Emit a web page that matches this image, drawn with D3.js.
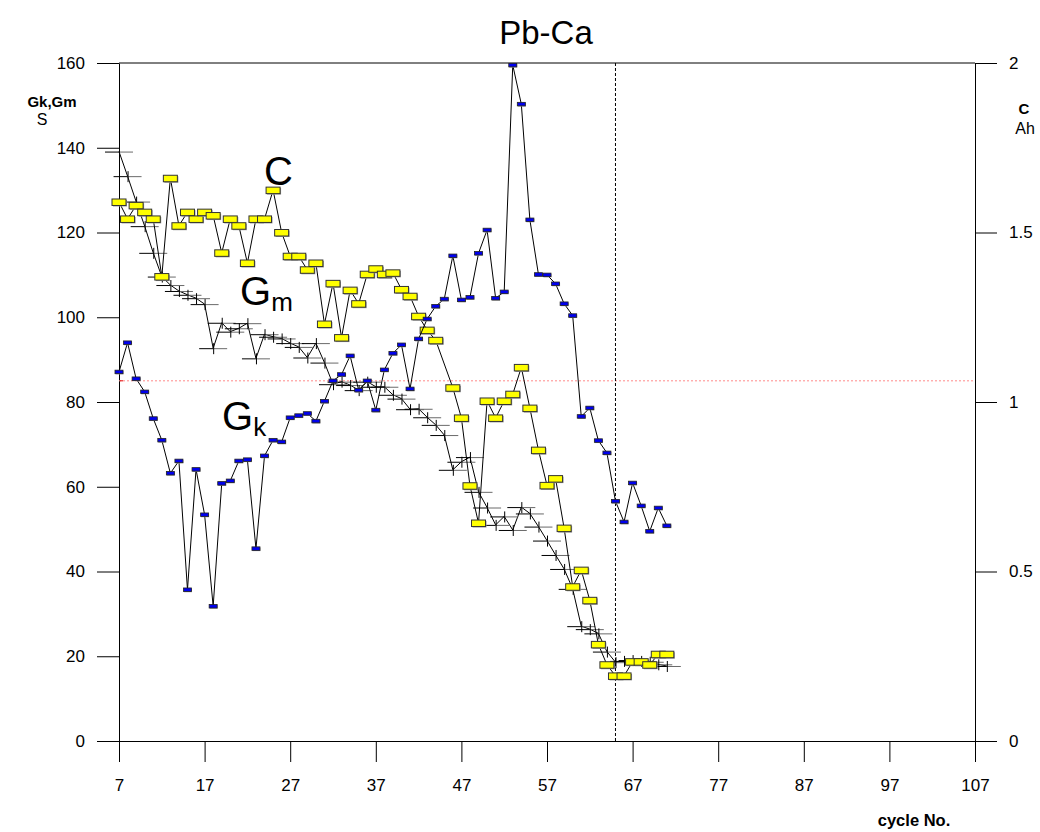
<!DOCTYPE html>
<html lang="en">
<head>
    <meta charset="UTF-8">
    <title>Pb-Ca</title>
    <script src="https://d3js.org/d3.v7.min.js"></script>
    <style>
        body { margin: 0; background: #fff; }
        text { font-family: "Liberation Sans", Arial, sans-serif; fill: #000; }
        .tick text { font-size: 17px; }
    </style>
</head>
<body>
<svg id="main" width="1040" height="832"></svg>
<script>
    // cycle numbers (x)
    const cycles = [7, 8, 9, 10, 11, 12, 13, 14, 15, 16, 17, 18, 19, 20, 21, 22, 23, 24, 25, 26,
        27, 28, 29, 30, 31, 32, 33, 34, 35, 36, 37, 38, 39, 40, 41, 42, 43, 44, 45, 46,
        47, 48, 49, 50, 51, 52, 53, 54, 55, 56, 57, 58, 59, 60, 61, 62, 63, 64, 65, 66,
        67, 68, 69, 70, 71];
    // Gk, S (left axis)
    const gk = [87.1, 94.0, 85.5, 82.4, 76.1, 71.0, 63.2, 66.1, 35.7, 64.1, 53.4, 31.8, 60.8, 61.4, 66.1, 66.4, 45.4, 67.3, 71.0, 70.6,
        76.3, 76.8, 77.3, 75.5, 80.2, 85.0, 86.5, 90.9, 82.8, 85.0, 78.1, 87.6, 91.5, 93.5, 83.1, 94.9, 99.6, 102.6, 104.3, 114.5,
        104.1, 104.7, 115.1, 120.6, 104.5, 106.0, 159.5, 150.3, 123.0, 110.1, 110.0, 107.9, 103.2, 100.4, 76.6, 78.6, 70.9, 68.0, 56.6, 51.7,
        60.9, 55.5, 49.5, 55.0, 50.8];
    // Gm, S (left axis)
    const gm = [139.1, 133.3, 127.3, 121.5, 115.2, 109.6, 107.6, 106.2, 105.3, 104.5, 103.1, 92.7, 98.7, 96.6, 97.4, 98.6, 90.3, 96.0, 95.4, 95.0,
        93.9, 93.0, 90.5, 93.9, 89.3, 84.2, 84.8, 84.0, 82.8, 84.8, 83.6, 83.6, 81.7, 80.8, 78.3, 78.4, 76.4, 74.6, 72.2, 64.0,
        65.9, 67.0, 58.8, 55.1, 51.0, 53.0, 49.8, 55.2, 53.7, 50.6, 47.3, 43.9, 40.6, 35.9, 27.1, 26.4, 25.4, 21.1, 18.6, 18.9,
        19.1, 18.9, 18.7, 18.1, 17.7];
    // C, Ah (right axis), no reading at cycle 45
    const cap = [1.59, 1.54, 1.58, 1.56, 1.54, 1.37, 1.66, 1.52, 1.56, 1.54, 1.56, 1.55, 1.44, 1.54, 1.52, 1.41, 1.54, 1.54, 1.625, 1.50,
        1.43, 1.43, 1.39, 1.41, 1.23, 1.35, 1.19, 1.33, 1.29, 1.377, 1.393, 1.377, 1.381, 1.332, 1.312, 1.253, 1.212, 1.182, null, 1.042,
        0.953, 0.753, 0.643, 1.003, 0.953, 1.003, 1.023, 1.102, 0.982, 0.858, 0.754, 0.774, 0.628, 0.455, 0.504, 0.415, 0.285, 0.225, 0.192, 0.192,
        0.234, 0.234, 0.225, 0.256, 0.256];

    const xTicks = [7, 17, 27, 37, 47, 57, 67, 77, 87, 97, 107];
    const leftTicks = [0, 20, 40, 60, 80, 100, 120, 140, 160];
    const rightTicks = [0, 0.5, 1, 1.5, 2];
    const markerCycle = [65];   // dashed vertical line
    const refLevel = [85];      // red dotted line (left axis)

    let svg = d3.select('svg#main');
    let x = d3.scaleLinear().domain([7, 107]).range([119, 975]);
    let yL = d3.scaleLinear().domain([0, 160]).range([741, 63]);
    let yR = d3.scaleLinear().domain([0, 2]).range([741, 63]);

    // title
    svg.append('text').attr('x', 546).attr('y', 44).attr('text-anchor', 'middle')
        .style('font-size', '33px').text('Pb-Ca');

    // top frame line
    svg.append('line').attr('x1', x(7)).attr('x2', x(107)).attr('y1', yL(160)).attr('y2', yL(160))
        .attr('stroke', '#000').attr('stroke-width', 1);

    // axes
    let axL = svg.append('g').attr('transform', 'translate(' + x(7) + ',0)')
        .call(d3.axisLeft(yL).tickValues(leftTicks).tickSize(22).tickSizeOuter(0).tickPadding(12).tickFormat(d3.format('d')));
    let axR = svg.append('g').attr('transform', 'translate(' + x(107) + ',0)')
        .call(d3.axisRight(yR).tickValues(rightTicks).tickSize(22).tickSizeOuter(0).tickPadding(12).tickFormat(d => String(d)));
    let axB = svg.append('g').attr('transform', 'translate(0,' + yL(0) + ')')
        .call(d3.axisBottom(x).tickValues(xTicks).tickSize(21).tickSizeOuter(0).tickPadding(17).tickFormat(d3.format('d')));
    [axL, axR, axB].forEach(function (g) {
        g.attr('font-family', null).attr('font-size', null);
        g.selectAll('path,line').attr('stroke', '#000');
    });

    // reference lines
    svg.selectAll('line.ref').data(refLevel).enter().append('line').attr('class', 'ref')
        .attr('x1', x(7)).attr('x2', x(107)).attr('y1', d => yL(d)).attr('y2', d => yL(d))
        .attr('stroke', '#ff8a8a').attr('stroke-dasharray', '2,2');
    svg.selectAll('line.refStart').data(refLevel).enter().append('line').attr('class', 'refStart')
        .attr('x1', x(7) + 1).attr('x2', x(7) + 4).attr('y1', d => yL(d)).attr('y2', d => yL(d))
        .attr('stroke', '#e00000');
    svg.selectAll('line.mark').data(markerCycle).enter().append('line').attr('class', 'mark')
        .attr('x1', d => x(d)).attr('x2', d => x(d)).attr('y1', yL(160)).attr('y2', yL(0))
        .attr('stroke', '#000').attr('stroke-dasharray', '3,2');

    // Gm series: line + crosses
    let gmPts = cycles.map((c, i) => [c, gm[i]]);
    svg.append('path').datum(gmPts)
        .attr('d', d3.line().x(d => x(d[0])).y(d => yL(d[1])))
        .attr('fill', 'none').attr('stroke', '#000').attr('stroke-width', 1);
    let cross = svg.append('g').selectAll('g').data(gmPts).enter().append('g')
        .attr('transform', d => 'translate(' + x(d[0]) + ',' + yL(d[1]) + ')');
    cross.append('line').attr('x1', 0).attr('x2', 14).attr('y1', 0.5).attr('y2', 0.5).attr('stroke', '#6a6a6a');
    cross.append('line').attr('x1', -14).attr('x2', 0).attr('y1', 0.5).attr('y2', 0.5).attr('stroke', '#000');
    cross.append('line').attr('x1', 0.5).attr('x2', 0.5).attr('y1', -5).attr('y2', 6).attr('stroke', '#000');

    // C series (right axis)
    let cPts = cycles.map((c, i) => [c, cap[i]]).filter(d => d[1] !== null);
    svg.append('path').datum(cPts)
        .attr('d', d3.line().x(d => x(d[0])).y(d => yR(d[1])))
        .attr('fill', 'none').attr('stroke', '#000').attr('stroke-width', 1);
    let cG = svg.append('g').selectAll('g').data(cPts).enter().append('g')
        .attr('transform', d => 'translate(' + x(d[0]) + ',' + yR(d[1]) + ')');
    cG.append('rect').attr('x', -6).attr('y', -2).attr('width', 14).attr('height', 6.5).attr('fill', '#9a9a9a');
    cG.append('rect').attr('x', -7).attr('y', -3).attr('width', 14).attr('height', 6.5)
        .attr('fill', '#ffff00').attr('stroke', '#333').attr('stroke-width', 1);

    // Gk series
    let gkPts = cycles.map((c, i) => [c, gk[i]]);
    svg.append('path').datum(gkPts)
        .attr('d', d3.line().x(d => x(d[0])).y(d => yL(d[1])))
        .attr('fill', 'none').attr('stroke', '#000').attr('stroke-width', 1);
    let kG = svg.append('g').selectAll('g').data(gkPts).enter().append('g')
        .attr('transform', d => 'translate(' + x(d[0]) + ',' + yL(d[1]) + ')');
    kG.append('rect').attr('x', -3.5).attr('y', -1).attr('width', 8).attr('height', 3.5).attr('fill', '#9a9a9a');
    kG.append('rect').attr('x', -4).attr('y', -1.75).attr('width', 8).attr('height', 3.5)
        .attr('fill', '#0000ee').attr('stroke', '#222').attr('stroke-width', 0.8);

    // axis titles
    svg.append('text').attr('x', 52).attr('y', 107).attr('text-anchor', 'middle')
        .style('font-size', '15px').style('font-weight', 'bold').text('Gk,Gm');
    svg.append('text').attr('x', 42).attr('y', 125).attr('text-anchor', 'middle')
        .style('font-size', '16px').text('S');
    svg.append('text').attr('x', 1024).attr('y', 114).attr('text-anchor', 'middle')
        .style('font-size', '15px').style('font-weight', 'bold').text('C');
    svg.append('text').attr('x', 1025).attr('y', 134).attr('text-anchor', 'middle')
        .style('font-size', '16px').text('Ah');
    svg.append('text').attr('x', 914).attr('y', 826).attr('text-anchor', 'middle')
        .style('font-size', '16.5px').style('font-weight', 'bold').text('cycle No.');

    // in-plot series labels
    svg.append('text').attr('x', 264).attr('y', 185).style('font-size', '40px').text('C');
    let lm = svg.append('text').attr('x', 240).attr('y', 305).style('font-size', '40px');
    lm.append('tspan').text('G');
    lm.append('tspan').attr('dy', 6).style('font-size', '26px').text('m');
    let lk = svg.append('text').attr('x', 222).attr('y', 430).style('font-size', '40px');
    lk.append('tspan').text('G');
    lk.append('tspan').attr('dy', 6).style('font-size', '26px').text('k');
</script>
</body>
</html>
